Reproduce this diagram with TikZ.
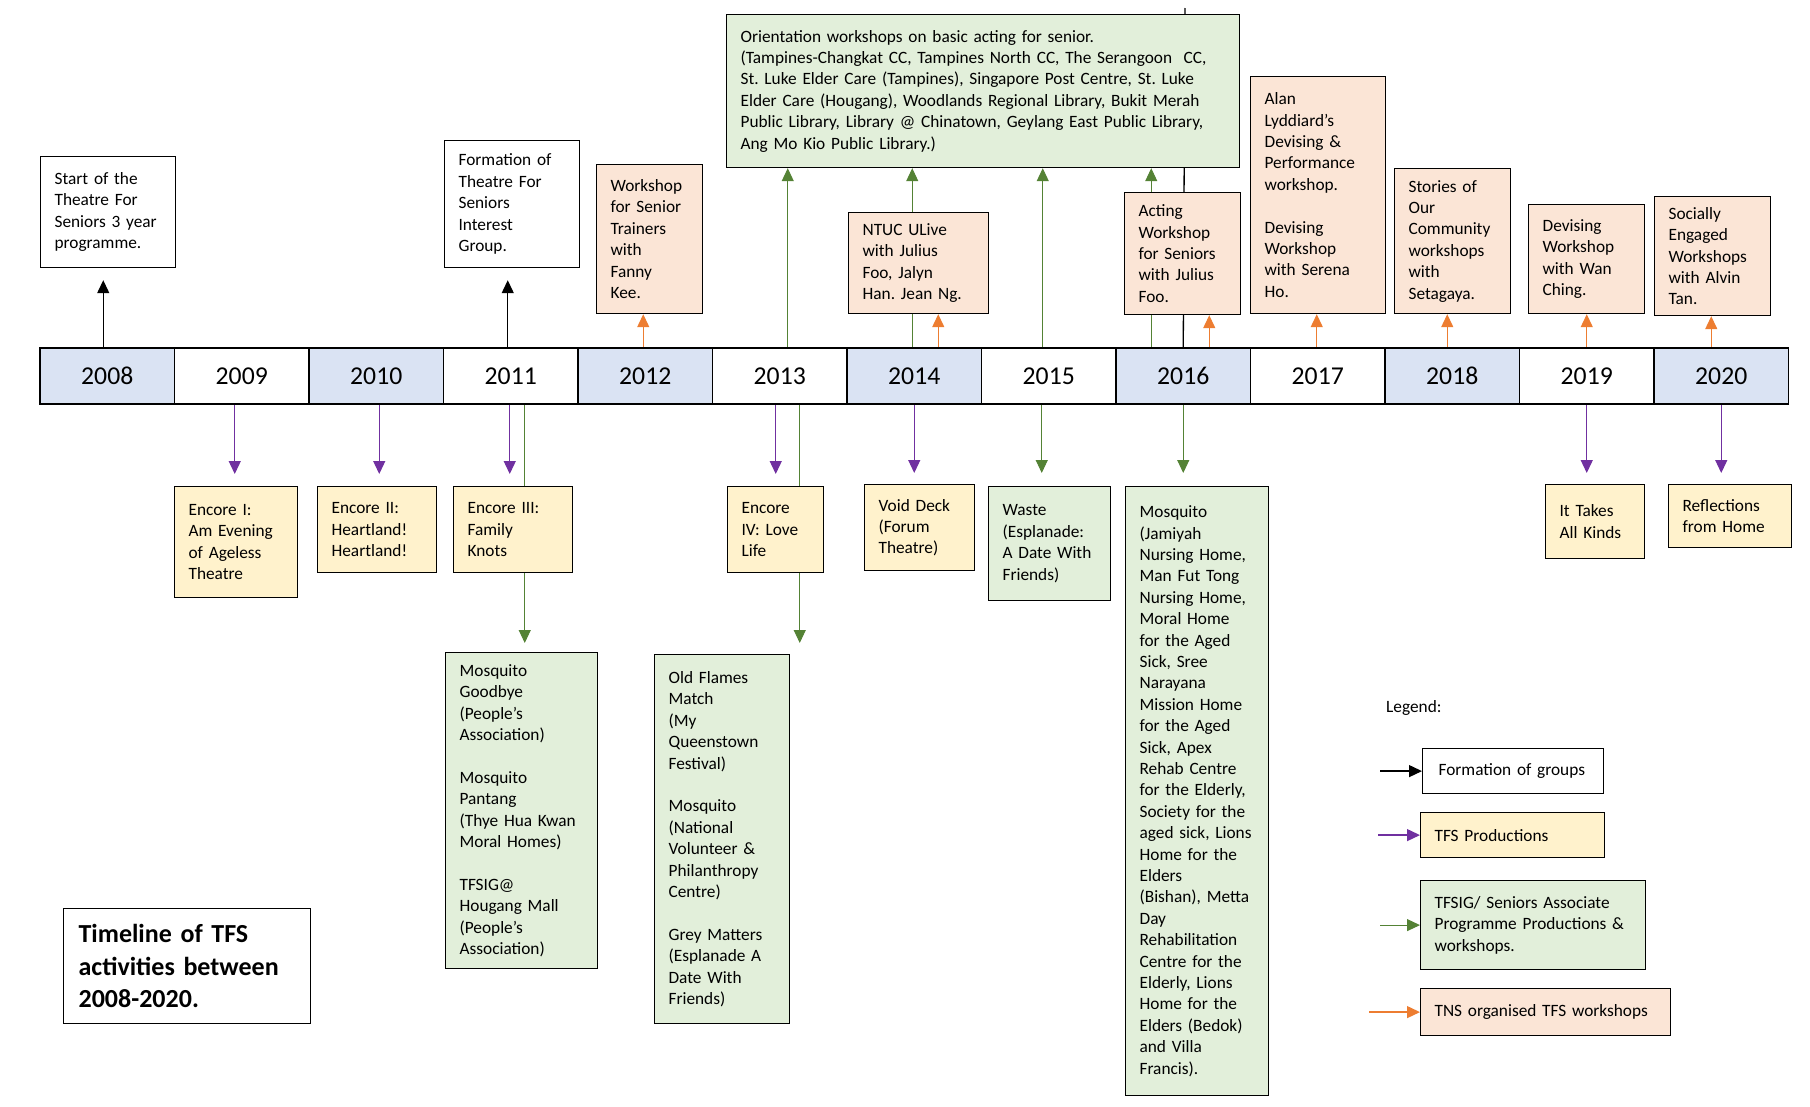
\documentclass[tikz,border=0pt]{standalone}
\usepackage{fontspec}
\setmainfont{Carlito}
\usepackage{tikz}
\usetikzlibrary{arrows.meta,backgrounds}
\frenchspacing

\definecolor{tnsfill}{HTML}{FBE5D6}
\definecolor{prodfill}{HTML}{FFF2CC}
\definecolor{sigfill}{HTML}{E2EFDA}
\definecolor{yearfill}{HTML}{DAE3F3}
\definecolor{tnsline}{HTML}{ED7D31}
\definecolor{prodline}{HTML}{7030A0}
\definecolor{sigline}{HTML}{548235}

\newcommand{\boxfont}{\fontsize{17.3}{21.4}\selectfont}
\newcommand{\yearfont}{\fontsize{25.7}{30}\selectfont}
\newcommand{\titlefont}{\fontsize{26}{32.5}\selectfont\bfseries}

\tikzset{
  box/.style={draw, line width=1.2pt, anchor=north west, inner xsep=14pt, inner ysep=0pt, align=left, font=\boxfont},
  formbox/.style={box, fill=white},
  prodbox/.style={box, fill=prodfill},
  sigbox/.style={box, fill=sigfill},
  tnsbox/.style={box, fill=tnsfill},
  yearcell/.style={draw, line width=1.2pt, minimum width=134.5pt, minimum height=56pt, inner sep=0pt, font=\yearfont},
  tip/.style={-{Triangle[length=13pt,width=12pt]}},
  formarrow/.style={tip, black, line width=1.3pt},
  formline/.style={black, line width=1.3pt},
  prodarrow/.style={tip, prodline, line width=1.3pt},
  sigarrow/.style={tip, sigline, line width=1pt},
  tnsarrow/.style={tip, tnsline, line width=1.3pt}
}

\begin{document}
\begin{tikzpicture}[x=1pt,y=-1pt]
\useasboundingbox (0,0) rectangle (1810,1106);

% the years
\foreach \yr [count=\i from 0] in {2008,...,2020}{
  \ifodd\i \def\cellfill{white}\else \def\cellfill{yearfill}\fi
  \node[yearcell, fill=\cellfill] (y\yr) at ({107.25+134.5*\i},376) {\yr};
}

% above the line
\node[formbox, minimum width=135pt, minimum height=111pt, text width=107pt] (start) at (40,156)
  {Start of the\\Theatre For\\Seniors 3 year\\programme.};
\node[formbox, minimum width=135pt, minimum height=127pt, text width=107pt] (tfsig) at (444,140)
  {Formation of\\Theatre For\\Seniors\\Interest\\Group.};
\node[tnsbox, minimum width=106pt, minimum height=149pt, text width=78pt] (wsen) at (596,164)
  {Workshop\\for Senior\\Trainers\\with\\Fanny\\Kee.};
\node[sigbox, minimum width=513pt, minimum height=153pt, text width=485pt] (orient) at (726,14)
  {Orientation workshops on basic acting for senior.\\
   (Tampines-Changkat CC, Tampines North CC, The Serangoon\ \ CC,\\
   St. Luke Elder Care (Tampines),\ Singapore Post Centre, St. Luke\\
   Elder Care (Hougang), Woodlands Regional Library, Bukit Merah\\
   Public Library, Library @ Chinatown, Geylang East Public Library,\\
   Ang Mo Kio Public Library.)};
\node[tnsbox, minimum width=140pt, minimum height=101pt, text width=112pt] (ntuc) at (848,212)
  {NTUC ULive\\with Julius\\Foo, Jalyn\\Han. Jean Ng.};
\node[tnsbox, minimum width=116pt, minimum height=122pt, text width=88pt] (acting) at (1124,192)
  {Acting\\Workshop\\for Seniors\\with Julius\\Foo.};
\node[tnsbox, minimum width=135pt, minimum height=237pt, text width=107pt] (alan) at (1250,76)
  {Alan\\Lyddiard’s\\Devising \&\\Performance\\workshop.\\[21.4pt]Devising\\Workshop\\with Serena\\Ho.};
\node[tnsbox, minimum width=116pt, minimum height=145pt, text width=88pt] (stories) at (1394,168)
  {Stories of\\Our\\Community\\workshops\\with\\Setagaya.};
\node[tnsbox, minimum width=116pt, minimum height=109pt, text width=88pt] (wanching) at (1528,204)
  {Devising\\Workshop\\with Wan\\Ching.};
\node[tnsbox, minimum width=116pt, minimum height=119pt, text width=88pt] (socially) at (1654,196)
  {Socially\\Engaged\\Workshops\\with Alvin\\Tan.};

% below the line
\node[prodbox, minimum width=123pt, minimum height=111pt, text width=95pt] (enc1) at (174,486)
  {Encore I:\\Am Evening\\of Ageless\\Theatre};
\node[prodbox, minimum width=119pt, minimum height=86pt, text width=91pt] (enc2) at (317,486)
  {Encore II:\\Heartland!\\Heartland!};
\node[prodbox, minimum width=119pt, minimum height=86pt, text width=91pt] (enc3) at (453,486)
  {Encore III:\\Family\\Knots};
\node[prodbox, minimum width=96pt, minimum height=86pt, text width=68pt] (enc4) at (727,486)
  {Encore\\IV: Love\\Life};
\node[prodbox, minimum width=110pt, minimum height=86pt, text width=82pt] (void) at (864,484)
  {Void Deck\\(Forum\\Theatre)};
\node[sigbox, minimum width=122pt, minimum height=114pt, text width=94pt] (waste) at (988,486)
  {Waste\\(Esplanade:\\A Date With\\Friends)};
\node[sigbox, minimum width=143pt, minimum height=609pt, text width=115pt] (mosq) at (1125,486)
  {Mosquito\\(Jamiyah\\Nursing Home,\\Man Fut Tong\\Nursing Home,\\Moral Home\\for the Aged\\Sick, Sree\\Narayana\\Mission Home\\for the Aged\\Sick, Apex\\Rehab Centre\\for the\ Elderly,\\Society for the\\aged sick, Lions\\Home for the\\Elders\\(Bishan), Metta\\Day\\Rehabilitation\\Centre for the\\Elderly,\ Lions\\Home for the\\Elders (Bedok)\\and Villa\\Francis).};
\node[prodbox, minimum width=99pt, minimum height=74pt, text width=71pt] (kinds) at (1545,484)
  {It Takes\\All Kinds};
\node[prodbox, minimum width=123pt, minimum height=63pt, text width=95pt] (reflect) at (1668,484)
  {Reflections\\from Home};
\node[sigbox, minimum width=152pt, minimum height=316pt, text width=124pt] (mgood) at (445,652)
  {Mosquito\\Goodbye\\(People’s\\Association)\\[21.4pt]Mosquito\\Pantang\\(Thye Hua Kwan\\Moral Homes)\\[21.4pt]TFSIG@\\Hougang Mall\\(People’s\\Association)};
\node[sigbox, minimum width=135pt, minimum height=369pt, text width=107pt] (flames) at (654,654)
  {Old Flames\\Match\\(My\\Queenstown\\Festival)\\[21.4pt]Mosquito\\(National\\Volunteer \&\\Philanthropy\\Centre)\\[21.4pt]Grey Matters\\(Esplanade A\\Date With\\Friends)};

% title and legend
\node[formbox, font=\titlefont, minimum width=247pt, minimum height=115pt, text width=217pt, inner xsep=15pt] (title) at (63,908)
  {Timeline of TFS\\activities between\\2008-2020.};
\node[font=\boxfont, anchor=west, inner sep=0pt] (legend) at (1386,708) {Legend:};
\node[formbox, minimum width=181pt, minimum height=45pt, text width=149pt, inner xsep=16pt] (lgform) at (1422,748) {Formation of groups};
\node[prodbox, minimum width=184pt, minimum height=45pt, text width=156pt] (lgprod) at (1420,812) {TFS Productions};
\node[sigbox, minimum width=225pt, minimum height=89pt, text width=197pt] (lgsig) at (1420,880)
  {TFSIG/ Seniors Associate\\Programme Productions \&\\workshops.};
\node[tnsbox, minimum width=250pt, minimum height=47pt, text width=222pt] (lgtns) at (1420,988) {TNS organised TFS workshops};

\coordinate (topend) at (1185,8);

\begin{scope}[on background layer]
% up from the line
\draw[formarrow, shorten >=12pt] ([xshift=-4pt]y2008.north) -- ([xshift=-4pt]y2008.north |- start.south);
\draw[formarrow, shorten >=12pt] ([xshift=-3pt]y2011.north) -- ([xshift=-3pt]y2011.north |- tfsig.south);
\draw[tnsarrow] ([xshift=-2pt]y2012.north) -- ([xshift=-2pt]y2012.north |- wsen.south);
\draw[sigarrow] ([xshift=8pt]y2013.north) -- ([xshift=8pt]y2013.north |- orient.south);
\draw[sigarrow] ([xshift=-2pt]y2014.north) -- ([xshift=-2pt]y2014.north |- orient.south);
\draw[tnsarrow] ([xshift=24pt]y2014.north) -- ([xshift=24pt]y2014.north |- ntuc.south);
\draw[sigarrow] ([xshift=-6pt]y2015.north) -- ([xshift=-6pt]y2015.north |- orient.south);
\draw[sigarrow] ([xshift=-32pt]y2016.north) -- ([xshift=-32pt]y2016.north |- orient.south);
\draw[formline] (y2016.north) -- (topend);
\draw[tnsarrow] ([xshift=26pt]y2016.north) -- ([xshift=26pt]y2016.north |- acting.south);
\draw[tnsarrow] ([xshift=-1pt]y2017.north) -- ([xshift=-1pt]y2017.north |- alan.south);
\draw[tnsarrow] ([xshift=-5pt]y2018.north) -- ([xshift=-5pt]y2018.north |- stories.south);
\draw[tnsarrow] (y2019.north) -- (y2019.north |- wanching.south);
\draw[tnsarrow] ([xshift=-10pt]y2020.north) -- ([xshift=-10pt]y2020.north |- socially.south);
% down from the line
\draw[prodarrow, shorten >=12pt] ([xshift=-7pt]y2009.south) -- ([xshift=-7pt]y2009.south |- enc1.north);
\draw[prodarrow, shorten >=12pt] ([xshift=3pt]y2010.south) -- ([xshift=3pt]y2010.south |- enc2.north);
\draw[prodarrow, shorten >=12pt] ([xshift=-1pt]y2011.south) -- ([xshift=-1pt]y2011.south |- enc3.north);
\draw[sigarrow, shorten >=9pt] ([xshift=14pt]y2011.south) -- ([xshift=14pt]y2011.south |- mgood.north);
\draw[prodarrow, shorten >=12pt] ([xshift=-4pt]y2013.south) -- ([xshift=-4pt]y2013.south |- enc4.north);
\draw[sigarrow, shorten >=11pt] ([xshift=20pt]y2013.south) -- ([xshift=20pt]y2013.south |- flames.north);
\draw[prodarrow, shorten >=11pt] (y2014.south) -- (y2014.south |- void.north);
\draw[sigarrow, shorten >=13pt] ([xshift=-7pt]y2015.south) -- ([xshift=-7pt]y2015.south |- waste.north);
\draw[sigarrow, shorten >=13pt] (y2016.south) -- (y2016.south |- mosq.north);
\draw[prodarrow, shorten >=11pt] (y2019.south) -- (y2019.south |- kinds.north);
\draw[prodarrow, shorten >=11pt] (y2020.south) -- (y2020.south |- reflect.north);
% legend arrows
\draw[formarrow] ([xshift=-42pt]lgform.west) -- (lgform.west);
\draw[prodarrow] ([xshift=-42pt]lgprod.west) -- (lgprod.west);
\draw[sigarrow] ([xshift=-40pt]lgsig.west) -- (lgsig.west);
\draw[tnsarrow] ([xshift=-51pt]lgtns.west) -- (lgtns.west);
\end{scope}
\end{tikzpicture}
\end{document}
